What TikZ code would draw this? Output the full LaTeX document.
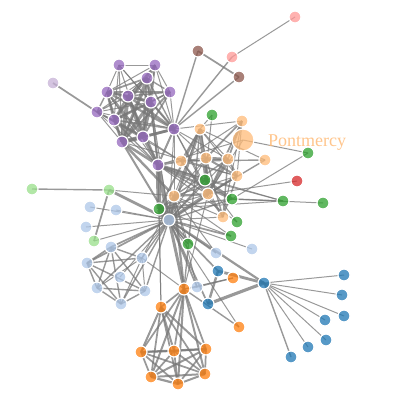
\documentclass[tikz,border=0pt]{standalone}
\usepackage{fontspec}
\setmainfont{Liberation Serif}
\usetikzlibrary{backgrounds}
\definecolor{ga}{HTML}{1F77B4}
\definecolor{gb}{HTML}{AEC7E8}
\definecolor{gc}{HTML}{FF7F0E}
\definecolor{gd}{HTML}{FFBB78}
\definecolor{ge}{HTML}{2CA02C}
\definecolor{gf}{HTML}{98DF8A}
\definecolor{gg}{HTML}{D62728}
\definecolor{gh}{HTML}{FF9896}
\definecolor{gi}{HTML}{9467BD}
\definecolor{gj}{HTML}{C5B0D5}
\definecolor{gk}{HTML}{8C564B}
\definecolor{edgec}{HTML}{777777}
\begin{document}
\begin{tikzpicture}[x=1pt,y=-1pt,
  nd/.style={circle,draw=white,line width=1.2pt,minimum size=12pt,inner sep=0pt,fill opacity=0.75},
  ed/.style={draw=edgec,opacity=0.75},
  lbl/.style={text=gd,text opacity=0.85,font=\fontsize{18}{20}\selectfont,inner sep=0pt,anchor=base west}]
\useasboundingbox (0,0) rectangle (419,402);
\foreach \i/\x/\y/\c in {
 0/264/283/ga, 1/344/275/ga, 2/218/271/ga, 3/208/304/ga, 4/342/295/ga, 5/344/316/ga,
 6/325/320/ga, 7/326/340/ga, 8/291/357/ga, 9/308/347/ga, 10/90/207/gb, 11/169/220/gb,
 12/239/327/gc, 13/116/210/gb, 14/86/227/gb, 15/252/249/gb, 16/161/307/gc, 17/141/352/gc,
 18/174/351/gc, 19/206/349/gc, 20/151/377/gc, 21/178/384/gc, 22/205/374/gc, 23/184/289/gc,
 24/200/129/gd, 25/208/194/gd, 26/159/209/ge, 27/174/196/gd, 28/109/190/gf, 29/142/258/gb,
 30/233/278/gc, 31/197/287/gb, 32/120/277/gb, 33/216/253/gb, 34/111/247/gb, 35/87/263/gb,
 36/97/288/gb, 37/121/304/gb, 38/145/291/gb, 40/297/181/gg, 41/181/161/gd,
 42/265/160/gd, 43/231/236/ge, 44/94/241/gf, 45/32/189/gf, 46/295/17/gh, 47/232/57/gh,
 48/174/129/gi, 49/205/180/ge, 50/212/115/ge, 51/232/199/ge, 52/308/153/ge, 53/323/203/ge,
 54/283/201/ge, 55/158/165/gi, 56/237/222/ge, 57/97/112/gi, 58/122/142/gi, 59/128/96/gi,
 60/170/92/gi, 61/147/78/gi, 62/143/137/gi, 63/107/92/gi, 64/151/102/gi, 65/114/120/gi,
 66/155/65/gi, 67/53/83/gj, 68/206/158/gd, 69/228/159/gd, 70/237/176/gd, 71/223/217/gd,
 72/188/244/ge, 73/198/51/gk, 74/239/77/gk, 75/242/121/gd, 76/119/65/gi}
 \node[nd,fill=\c] (n\i) at (\x,\y) {};
\node[nd,fill=gd,minimum size=22pt] (n39) at (243,140) {};
\node[lbl] (plabel) at (268,146) {Pontmercy};
\begin{scope}[on background layer]
\foreach \a/\b/\v in {
1/0/1, 2/0/8, 3/0/10, 3/2/6, 4/0/1, 5/0/1, 6/0/1, 7/0/1, 8/0/2, 9/0/1, 11/10/1, 11/3/3, 11/2/3, 11/0/5, 12/11/1, 13/11/1, 14/11/1, 15/11/1, 17/16/4, 18/16/4, 18/17/4, 19/16/4, 19/17/4, 19/18/4, 20/16/3, 20/17/3, 20/18/3, 20/19/4, 21/16/3, 21/17/3, 21/18/3, 21/19/3, 21/20/5, 22/16/3, 22/17/3, 22/18/3, 22/19/3, 22/20/4, 22/21/4, 23/16/3, 23/17/3, 23/18/3, 23/19/3, 23/20/4, 23/21/4, 23/22/4, 23/12/2, 23/11/9, 24/23/2, 24/11/7, 25/24/13, 25/23/1, 25/11/12, 26/24/4, 26/11/31, 26/16/1, 26/25/1, 27/11/17, 27/23/5, 27/25/5, 27/24/1, 27/26/1, 28/11/8, 28/27/1, 29/23/1, 29/27/1, 29/11/2, 30/23/1, 31/30/2, 31/11/3, 31/23/2, 31/27/1, 32/11/1, 33/11/2, 33/27/1, 34/11/3, 34/29/2, 35/11/3, 35/34/3, 35/29/2, 36/34/2, 36/35/2, 36/11/2, 36/29/1, 37/34/2, 37/35/2, 37/36/2, 37/11/2, 37/29/1, 38/34/2, 38/35/2, 38/36/2, 38/37/2, 38/11/2, 38/29/1, 39/25/1, 40/25/1, 41/24/2, 41/25/3, 42/41/2, 42/25/2, 42/24/1, 43/11/3, 43/26/1, 43/27/1, 44/28/3, 44/11/1, 45/28/2, 47/46/1, 48/47/2, 48/25/1, 48/27/1, 48/11/1, 49/26/3, 49/11/2, 50/49/1, 50/24/1, 51/49/9, 51/26/2, 51/11/2, 52/51/1, 52/39/1, 53/51/1, 54/51/2, 54/49/1, 54/26/1, 55/51/6, 55/49/12, 55/39/1, 55/54/1, 55/26/21, 55/11/19, 55/16/1, 55/25/2, 55/41/5, 55/48/4, 56/49/1, 56/55/1, 57/55/1, 57/41/1, 57/48/1, 58/55/7, 58/48/7, 58/27/6, 58/57/1, 58/11/4, 59/58/15, 59/55/5, 59/48/6, 59/57/2, 60/48/1, 60/58/4, 60/59/2, 61/48/2, 61/58/6, 61/60/2, 61/59/5, 61/57/1, 61/55/1, 62/55/9, 62/58/17, 62/59/13, 62/48/7, 62/57/2, 62/41/1, 62/61/6, 62/60/3, 63/59/5, 63/48/5, 63/62/6, 63/57/2, 63/58/4, 63/61/3, 63/60/2, 63/55/1, 64/55/5, 64/62/12, 64/48/5, 64/63/4, 64/58/10, 64/61/6, 64/60/2, 64/59/9, 64/57/1, 64/11/1, 65/63/5, 65/64/7, 65/48/3, 65/62/5, 65/58/5, 65/61/5, 65/60/2, 65/59/5, 65/57/1, 65/55/2, 66/64/3, 66/58/3, 66/59/1, 66/62/2, 66/65/2, 66/48/1, 66/63/1, 66/61/1, 66/60/1, 67/57/3, 68/25/5, 68/11/1, 68/24/1, 68/27/1, 68/48/1, 68/41/1, 69/25/6, 69/68/6, 69/11/1, 69/24/1, 69/27/2, 69/48/1, 69/41/1, 70/25/4, 70/69/4, 70/68/4, 70/11/1, 70/24/1, 70/27/1, 70/41/1, 70/58/1, 71/27/1, 71/69/2, 71/68/2, 71/70/2, 71/11/1, 71/48/1, 71/41/1, 71/25/1, 72/26/2, 72/27/1, 72/11/1, 73/48/2, 74/48/2, 74/73/3, 75/69/3, 75/68/3, 75/25/3, 75/48/1, 75/41/1, 75/70/1, 75/71/1, 76/64/1, 76/65/1, 76/66/1, 76/63/1, 76/62/1, 76/48/1, 76/58/1}
 \draw[ed,line width={sqrt(\v)*1pt}] (n\a.center) -- (n\b.center);
\end{scope}
\end{tikzpicture}
\end{document}
